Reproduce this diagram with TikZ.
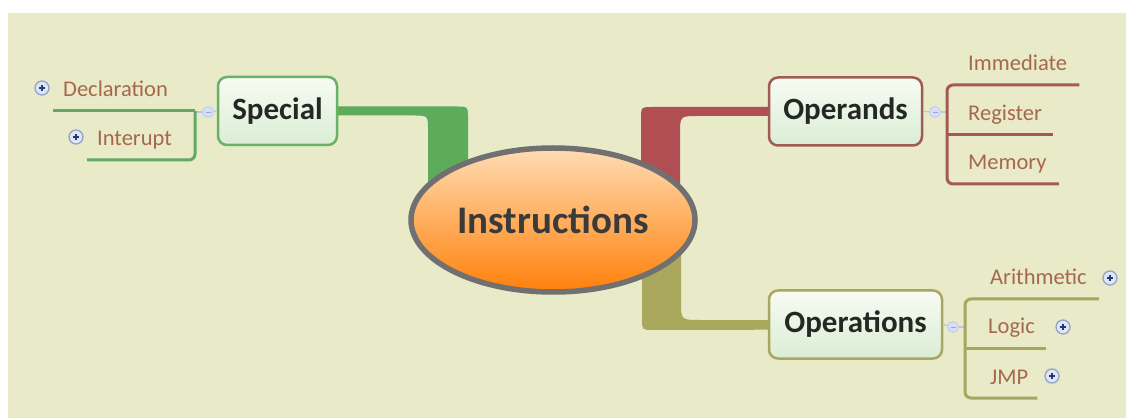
\documentclass[tikz,border=0pt]{standalone}
\usepackage{fontspec}
\setmainfont{Carlito}
\usetikzlibrary{shapes.geometric,calc}

\pgfdeclarelayer{paper}
\pgfdeclarelayer{links}
\pgfsetlayers{paper,links,main}

% palette
\definecolor{paperc}{RGB}{232,234,200}
\definecolor{brG}{RGB}{92,172,92}
\definecolor{brR}{RGB}{176,78,84}
\definecolor{brO}{RGB}{170,168,92}
\definecolor{lnG}{RGB}{98,170,98}
\definecolor{lnR}{RGB}{164,90,80}
\definecolor{lnO}{RGB}{166,166,96}
\definecolor{boxG}{RGB}{104,178,104}
\definecolor{boxR}{RGB}{160,92,84}
\definecolor{boxO}{RGB}{168,166,96}
\definecolor{boxtop}{RGB}{248,251,243}
\definecolor{boxbot}{RGB}{218,237,212}
\definecolor{childtxt}{RGB}{166,104,76}
\definecolor{titletxt}{RGB}{36,40,36}
\definecolor{rootrim}{RGB}{112,112,112}
\definecolor{roottop}{RGB}{255,220,180}
\definecolor{rootbot}{RGB}{255,128,10}
\definecolor{roottxt}{RGB}{58,58,58}
\definecolor{foldfill}{RGB}{214,222,248}
\definecolor{foldrim}{RGB}{184,196,236}
\definecolor{foldmark}{RGB}{150,164,220}
\definecolor{plusfill}{RGB}{222,230,246}
\definecolor{plusrim}{RGB}{146,164,200}
\definecolor{plusmark}{RGB}{36,56,120}

\tikzset{
  rootnode/.style={ellipse, minimum width=284pt, minimum height=144pt, inner sep=0pt,
    line width=5.5pt, draw=rootrim, top color=roottop, bottom color=rootbot,
    text=roottxt, font=\fontsize{39}{44}\selectfont\bfseries},
  topic/.style={rounded corners=9pt, line width=2.5pt, top color=boxtop, bottom color=boxbot,
    minimum height=68pt, inner sep=0pt, text=titletxt,
    font=\fontsize{31}{36}\selectfont\bfseries},
  leaf/.style={anchor=base west, inner sep=0pt, text=childtxt,
    font=\fontsize{22.5}{27}\selectfont},
  fold/.style={circle, minimum size=11pt, inner sep=0pt, fill=foldfill, draw=foldrim,
    line width=0.6pt,
    path picture={\draw[foldmark, line width=0.9pt]
      ([xshift=-2.5pt]path picture bounding box.center) --
      ([xshift=2.5pt]path picture bounding box.center);}},
  expand/.style={circle, minimum size=14pt, inner sep=0pt, fill=plusfill, draw=plusrim,
    line width=1.3pt,
    path picture={\draw[plusmark, line width=1.2pt]
      ([xshift=-2.8pt]path picture bounding box.center) --
      ([xshift=2.8pt]path picture bounding box.center)
      ([yshift=-2.8pt]path picture bounding box.center) --
      ([yshift=2.8pt]path picture bounding box.center);}},
  sub/.style={line width=3pt, rounded corners=6pt},
  stub/.style={line width=1.2pt, foldrim},
}

\begin{document}
\begin{tikzpicture}[x=1pt, y=-1pt]
\useasboundingbox (0,0) rectangle (1126,419);
\begin{pgfonlayer}{paper}
  \fill[white] (0,0) rectangle (1126,419);
  \fill[paperc] (8,13) rectangle (1126,418);
\end{pgfonlayer}

% central and main topics
\node[rootnode] (root) at (553,220) {Instructions};
\node[topic, draw=boxG, minimum width=119pt] (special) at (277.5,111) {Special};
\node[topic, draw=boxR, minimum width=153pt] (operands) at (845.5,111.5) {Operands};
\node[topic, draw=boxO, minimum width=173pt] (operations) at (855.5,324.5) {Operations};

% collapse markers
\node[fold] (fS) at (208,112) {};
\node[fold] (fO) at (935,112) {};
\node[fold] (fOp) at (953,327) {};

% subtopics
\node[leaf] (dec) at (63,97) {Declaration};
\node[leaf] (int) at (97,146) {Interupt};
\node[leaf] (imm) at (968,71) {Immediate};
\node[leaf] (reg) at (968,121) {Register};
\node[leaf] (mem) at (968,170) {Memory};
\node[leaf] (ari) at (990,285) {Arithmetic};
\node[leaf] (log) at (988,334) {Logic};
\node[leaf] (jmp) at (990,384) {JMP};

% expand markers
\node[expand] (pDec) at (42,88) {};
\node[expand] (pInt) at (76,137) {};
\node[expand] (pAri) at (1110,278) {};
\node[expand] (pLog) at (1063,327) {};
\node[expand] (pJmp) at (1052,376) {};

% tapered branches from the central topic
\begin{pgfonlayer}{links}
  \fill[brG] ($(special.center)+(0,-4.5)$) -- (457,106.5) .. controls (468,106.5) .. (468,118)
    -- (468,200) -- (root.center) -- (428,200) -- (428,130) .. controls (428,115.5) .. (413,115.5)
    -- ($(special.center)+(0,4.5)$) -- cycle;
  \fill[brR] (root.center) -- (641,200) -- (641,119) .. controls (641,107) .. (653,107)
    -- ($(operands.center)+(0,-4.5)$) -- ($(operands.center)+(0,4.5)$)
    -- (698,116) .. controls (680,116) .. (680,134) -- (680,200) -- cycle;
  \fill[brO] (root.center) -- (642,240) -- (642,319) .. controls (642,330) .. (653,330)
    -- ($(operations.center)+(0,5)$) -- ($(operations.center)+(0,-4.5)$)
    -- (700,320) .. controls (681,320) .. (681,301) -- (681,240) -- cycle;
\end{pgfonlayer}

% subtopic underlines
\coordinate (jS) at ($(fS)+(-13,0)$);
\coordinate (decS) at ($(dec.base west)+(-10,14)$);
\coordinate (intS) at ($(int.base west)+(-10,14)$);
\draw[stub] (special.west) -- (fS);
\draw[stub] (fS) -- (jS);
\draw[sub, lnG] (decS) -- (decS -| jS);
\draw[sub, lnG] (decS -| jS) |- (intS);

\coordinate (jO) at ($(fO)+(12,0)$);
\coordinate (immE) at ($(imm.base east)+(12,14)$);
\coordinate (regE) at ($(reg.base east)+(11,14)$);
\coordinate (memE) at ($(mem.base east)+(12,14)$);
\draw[stub] (operands.east) -- (fO);
\draw[stub] (fO) -- (jO);
\draw[sub, lnR] (immE) -| (jO) |- (memE);
\draw[sub, lnR] (jO |- regE) -- (regE);

\coordinate (jOp) at ($(fOp)+(12,0)$);
\coordinate (ariE) at ($(ari.base east)+(12,14)$);
\coordinate (logE) at ($(log.base east)+(11,14)$);
\coordinate (jmpE) at ($(jmp.base east)+(9,14)$);
\draw[stub] (operations.east) -- (fOp);
\draw[stub] (fOp) -- (jOp);
\draw[sub, lnO] (ariE) -| (jOp) |- (jmpE);
\draw[sub, lnO] (jOp |- logE) -- (logE);
\end{tikzpicture}
\end{document}
